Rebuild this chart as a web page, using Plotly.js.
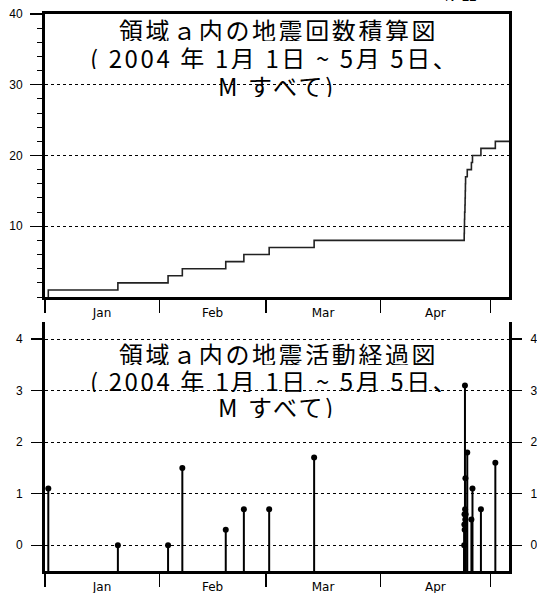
<!DOCTYPE html>
<html>
<head>
<meta charset="utf-8">
<script src="https://cdn.plot.ly/plotly-3.0.1.min.js"></script>
<style>html,body{margin:0;padding:0;background:#fff;}#chart{width:537px;height:593px;}</style>
</head>
<body>
<div id="chart"></div>
<script>
// Event times (JST) and magnitudes
const eventTimes = [
  '2004-01-01 21:30', '2004-01-20 19:00', '2004-02-03 10:00', '2004-02-07 07:00',
  '2004-02-19 02:00', '2004-02-24 00:00', '2004-03-01 21:00', '2004-03-14 02:00',
  '2004-04-23 20:00', '2004-04-23 21:00', '2004-04-23 22:00', '2004-04-23 23:00',
  '2004-04-24 01:00', '2004-04-24 02:00', '2004-04-24 03:00', '2004-04-24 04:00',
  '2004-04-24 05:00', '2004-04-24 16:00', '2004-04-25 19:00', '2004-04-26 02:00',
  '2004-04-28 09:00', '2004-05-02 07:00'
];
const magnitudes = [
  1.1, 0.0, 0.0, 1.5,
  0.3, 0.7, 0.7, 1.7,
  0.0, 0.4, 0.6, 0.3,
  3.1, 0.7, 0.5, 1.3,
  0.6, 1.8, 0.5, 1.1,
  0.7, 1.6
];
const periodStart = '2004-01-01';
const periodEnd = '2004-05-06';
const monthLabels = ['Jan', 'Feb', 'Mar', 'Apr'];
const monthCentres = ['2004-01-16 12:00', '2004-02-15 12:00', '2004-03-16 12:00', '2004-04-16 00:00'];
const countTicks = [10, 20, 30, 40];
const magTicks = [0, 1, 2, 3, 4];
const titleLines = ['領域ａ内の地震回数積算図', '( 2004 年 1月 1日 ~ 5月 5日、', 'M すべて)'];
const titleLinesMT = ['領域ａ内の地震活動経過図', '( 2004 年 1月 1日 ~ 5月 5日、', 'M すべて)'];
const countLabel = 'N=22';

// cumulative count step line built from the events
const cumX = [eventTimes[0]].concat(eventTimes, [periodEnd]);
const cumY = [0].concat(eventTimes.map((t, i) => i + 1), [eventTimes.length]);

// layout geometry
const W = 537, H = 593, mT = 14, mB = 22, mL = 45, mR = 28;
const plotH = H - mT - mB;
const py = p => (H - mB - p) / plotH; // pixel row -> paper fraction

const tickFont = {family: 'Liberation Sans, Arial, sans-serif', size: 12, color: '#000'};
const monthFont = {family: 'DejaVu Sans, sans-serif', size: 12, color: '#000'};
const titleFont = {family: 'Noto Sans CJK JP, sans-serif', size: 24, color: '#000'};
const spaced = t => '<span style="letter-spacing:2.6px">' + t + '</span>';

const data = [
  {
    x: cumX, y: cumY, xaxis: 'x', yaxis: 'y', type: 'scatter', mode: 'lines',
    line: {shape: 'hv', color: '#222', width: 1.6}, hoverinfo: 'skip'
  },
  {
    x: eventTimes, y: magnitudes, xaxis: 'x2', yaxis: 'y2', type: 'scatter', mode: 'markers',
    marker: {symbol: 'circle', size: 6, color: '#000'},
    error_y: {type: 'data', symmetric: false, array: magnitudes.map(() => 0),
              arrayminus: magnitudes.map(m => m + 0.5), width: 0, thickness: 2, color: '#000'},
    hoverinfo: 'skip'
  },
  {x: [], y: [], xaxis: 'x2', yaxis: 'y3', type: 'scatter', mode: 'markers', hoverinfo: 'skip'}
];

const xCommon = {
  type: 'date', range: [periodStart, periodEnd],
  tickmode: 'array', tickvals: monthCentres, ticktext: monthLabels, ticks: '',
  tickfont: monthFont, showgrid: false, zeroline: false,
  showline: true, linecolor: '#000', linewidth: 3,
  ticklabelstandoff: 3,
  minor: {tickmode: 'linear', tick0: periodStart, dtick: 'M1', ticks: 'outside', ticklen: 13, tickwidth: 1.2, tickcolor: '#000', showgrid: false}
};

const layout = {
  width: W, height: H,
  margin: {t: mT, b: mB, l: mL, r: mR, pad: 0},
  paper_bgcolor: '#fff', plot_bgcolor: '#fff',
  showlegend: false,
  xaxis: Object.assign({}, xCommon, {anchor: 'y', domain: [0, 1], mirror: true}),
  xaxis2: Object.assign({}, xCommon, {anchor: 'y2', domain: [0, 1]}),
  yaxis: {
    anchor: 'x', domain: [py(297), 1], range: [0, 40],
    tickmode: 'array', tickvals: countTicks, ticks: 'outside', ticklen: 12, tickwidth: 1.2, tickcolor: '#000',
    tickfont: tickFont, ticklabelstandoff: 5,
    showline: true, linecolor: '#000', linewidth: 3, mirror: true,
    showgrid: true, gridcolor: '#000', gridwidth: 1, griddash: 'dot', zeroline: false,
    minor: {tickmode: 'linear', tick0: 0, dtick: 2, ticks: 'outside', ticklen: 5, tickwidth: 1, tickcolor: '#000', showgrid: false}
  },
  yaxis2: {
    anchor: 'x2', domain: [0, py(322)], range: [-0.5, 4.33],
    tickmode: 'array', tickvals: magTicks, ticks: 'outside', ticklen: 11, tickwidth: 1.2, tickcolor: '#000',
    tickfont: tickFont, ticklabelstandoff: 6,
    showline: true, linecolor: '#000', linewidth: 3,
    showgrid: true, gridcolor: '#000', gridwidth: 1, griddash: 'dot', zeroline: false
  },
  yaxis3: {
    anchor: 'x2', overlaying: 'y2', side: 'right', range: [-0.5, 4.33],
    tickmode: 'array', tickvals: magTicks, ticks: 'outside', ticklen: 10, tickwidth: 1.2, tickcolor: '#000',
    tickfont: tickFont, ticklabelstandoff: 6,
    showline: true, linecolor: '#000', linewidth: 3, showgrid: false, zeroline: false
  },
  annotations: []
};

const topCentres = [30, 58, 85];
const botCentres = [353, 380, 406];
const topX = [278, 274, 277];
const px = p => (p - mL) / (W - mL - mR);
titleLines.forEach((t, i) => layout.annotations.push({
  text: spaced(t), xref: 'paper', yref: 'paper', x: px(topX[i]), y: py(topCentres[i]),
  xanchor: 'center', yanchor: 'middle', showarrow: false, font: titleFont, height: 23, borderpad: 0
}));
titleLinesMT.forEach((t, i) => layout.annotations.push({
  text: spaced(t), xref: 'paper', yref: 'paper', x: px(topX[i]), y: py(botCentres[i]),
  xanchor: 'center', yanchor: 'middle', showarrow: false, font: titleFont, height: 23, borderpad: 0
}));
layout.annotations.push({
  text: countLabel, xref: 'paper', yref: 'paper', x: px(460), y: py(6),
  xanchor: 'center', yanchor: 'bottom', showarrow: false,
  font: {family: 'Liberation Sans, Arial, sans-serif', size: 13, color: '#000'}
});

Plotly.newPlot('chart', data, layout, {displayModeBar: false, staticPlot: true});
</script>
</body>
</html>
